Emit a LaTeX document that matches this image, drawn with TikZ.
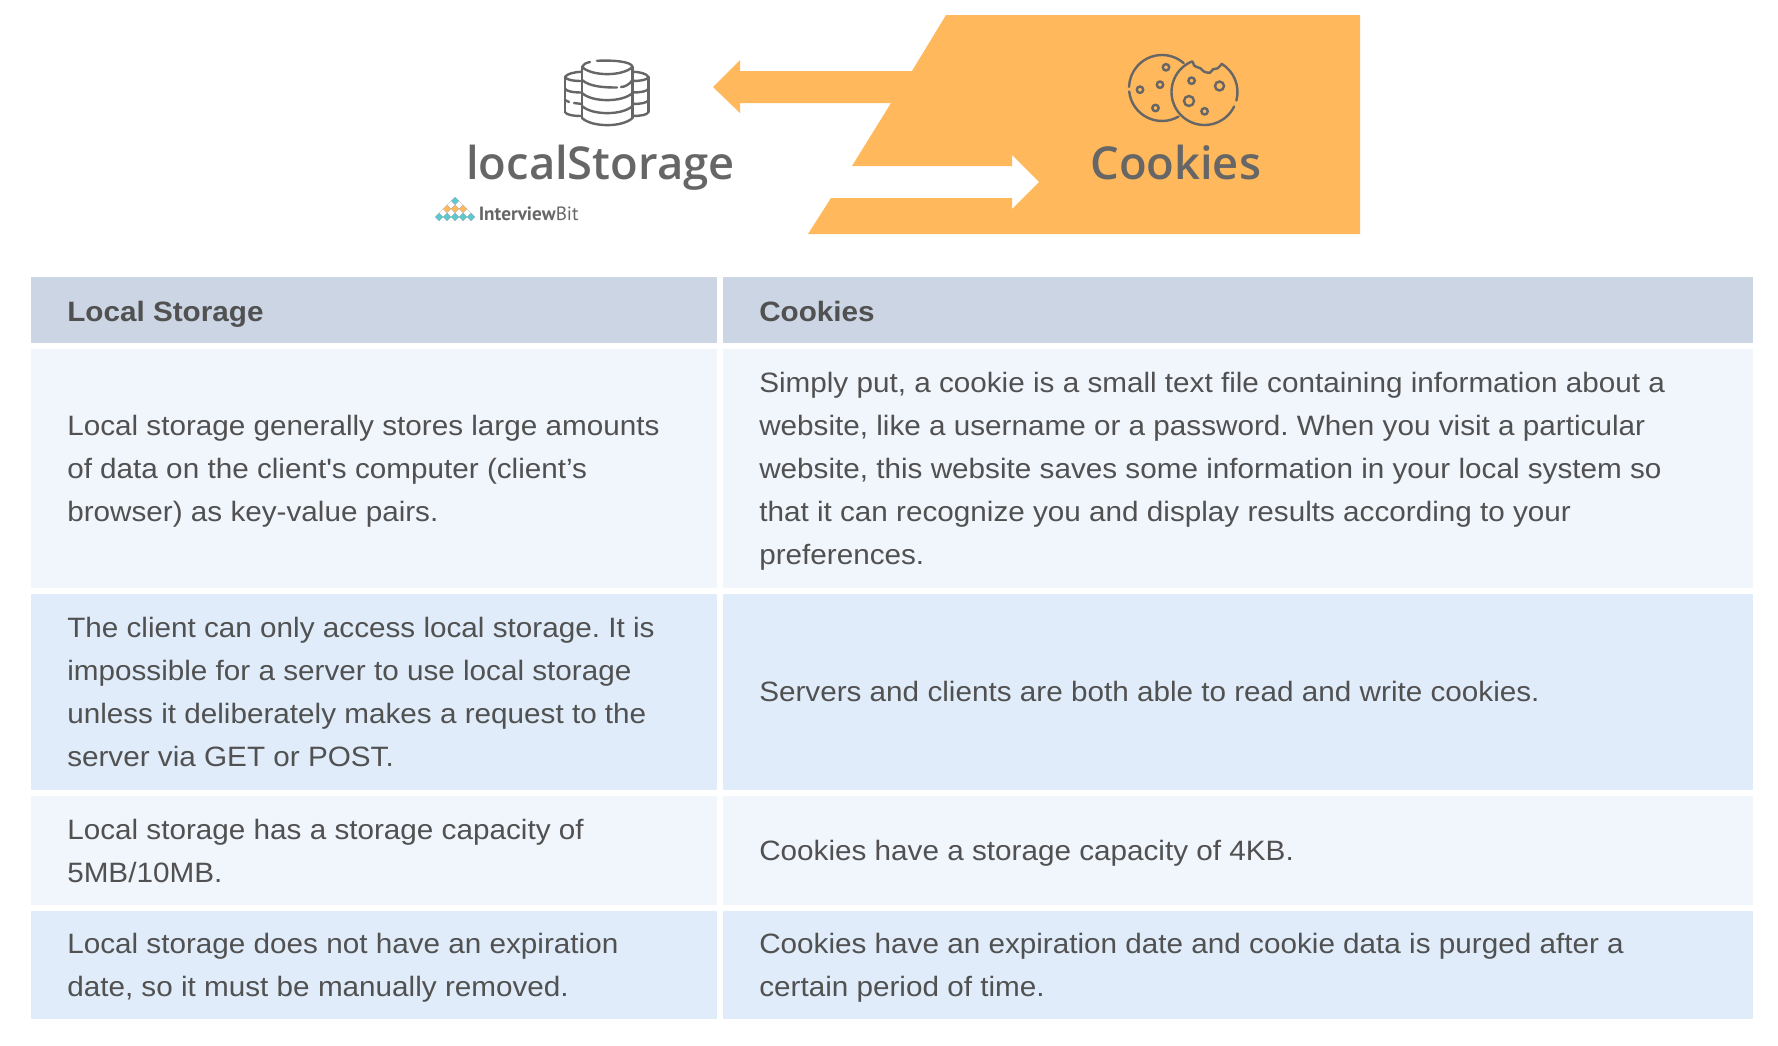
\documentclass[tikz,border=0pt]{standalone}
\usepackage{fontspec}
\setmainfont{Liberation Sans}
\newfontfamily\cellfont[FakeStretch=1.06]{Liberation Sans}
\newfontfamily\headfont{Open Sans Semibold}
\newfontfamily\logofont{PT Sans}
\usetikzlibrary{positioning}
\definecolor{accent}{HTML}{FFB85C}
\definecolor{iconcol}{HTML}{666666}
\definecolor{logoteal}{HTML}{5CC8D0}
\definecolor{txtcol}{HTML}{515151}
\definecolor{headbg}{HTML}{CBD5E3}
\definecolor{rowa}{HTML}{F1F5FC}
\definecolor{rowb}{HTML}{E0ECFA}
\newcommand{\bandarc}[4]{\draw[iconline] (#1,#3) .. controls (#1+0.2*#2-0.2*#1,#3+#4) and (#1+0.8*#2-0.8*#1,#3+#4) .. (#2,#3);}
\frenchspacing
\begin{document}
\begin{tikzpicture}[x=0.75pt,y=-0.75pt,
	iconline/.style={draw=iconcol,line width=1.8pt,line cap=round},
	celltext/.style={anchor=west,inner sep=0pt,align=left,text=txtcol,font=\fontsize{21}{32.25}\cellfont,execute at begin node=\strut,execute at end node=\strut},
	headtext/.style={celltext,font=\fontsize{21}{32.25}\cellfont\bfseries},
	bigtext/.style={anchor=base west,inner sep=0pt,text=iconcol,font=\fontsize{34}{34}\headfont}]
\useasboundingbox (0,0) rectangle (1778,1046);
% banner
\fill[accent] (946,15) -- (1360,15) -- (1360,234) -- (808,234) -- (831,198) -- (1012,198) -- (1012,209) -- (1039,182) -- (1012,155) -- (1012,166) -- (852,166) -- (891,103) -- (740,103) -- (740,113) -- (713,87) -- (740,60) -- (740,71) -- (912,71) -- cycle;
\node[bigtext] (title local) at (466,179) {localStorage};
\node[bigtext] (title cookies) at (1090,179) {Cookies};
% database icon
\draw[iconline] (565,77) -- (565,112);
\draw[iconline] (648.5,77) -- (648.5,112);
\draw[iconline] (565,77) .. controls (567,73.5) and (575,72) .. (582,71.7);
\draw[iconline] (648.5,77) .. controls (646.5,73.5) and (640,72) .. (632.5,71.7);
\foreach \y in {77,88.5,112} {
	\draw[iconline] (565,\y) .. controls (566,\y+3) and (574,\y+4) .. (582,\y+4);
	\draw[iconline] (648.5,\y) .. controls (647.5,\y+3) and (640,\y+4) .. (632.5,\y+4);
}
\draw[iconline] (565,100) -- (569,102);
\draw[iconline] (574,103) -- (582,104);
\draw[iconline] (648.5,100) .. controls (647.5,103) and (640,104) .. (632.5,104);
\draw[iconline] (582,67) -- (582,118);
\draw[iconline] (632.5,67) -- (632.5,118);
\draw[iconline] (582,67) .. controls (583,64) and (586,63) .. (590,62);
\draw[iconline] (597,60.8) .. controls (610,60) and (632,61) .. (632.5,67);
\foreach \y in {67,93,106,118} {
	\bandarc{582}{632.5}{\y}{9.5}
}
\draw[iconline] (582,80) .. controls (590,87) and (605,87.5) .. (617,87.5);
\draw[iconline] (621,87) .. controls (625,87) and (630,84) .. (632.5,80);
% cookie icon
\draw[iconline] (1162,88) ++(49:33*0.75pt) arc[start angle=49,end angle=178,radius=33*0.75pt];
\draw[iconline] (1162,88) ++(186:33*0.75pt) arc[start angle=186,end angle=300,radius=33*0.75pt];
\draw[iconline] (1204.5,92) ++(112:33*0.75pt) arc[start angle=112,end angle=334,radius=33*0.75pt];
\draw[iconline] (1204.5,92) ++(345:33*0.75pt) arc[start angle=345,end angle=419,radius=33*0.75pt];
\draw[iconline] plot[smooth] coordinates {(1192.7,61.7) (1194.6,66) (1200.4,68.3) (1204.2,71.7) (1210,72.7) (1213,69.3) (1217.6,68.3) (1221.5,64.3)};
\foreach \cx/\cy/\cr in {1166/67.3/3.2,1160/84.7/3.2,1140/89.7/3.2,1155.5/108/3.2,1191.6/80.7/3.2,1219.5/86/4.5,1189/101/5,1204.6/111.3/3.2} {
	\draw[iconline] (\cx,\cy) circle[radius=\cr*0.75pt];
}
% logo
\foreach \cx/\cy/\col in {455/201/logoteal,451/205/white,459/205/white,447/209/accent,455/209/accent,463/209/accent,443/213/white,451/213/white,459/213/white,467/213/white,439/217/logoteal,447/217/logoteal,455/217/logoteal,463/217/logoteal,471/217/logoteal} {
	\filldraw[fill=\col,draw=iconcol!55,line width=0.25pt] (\cx-4,\cy) -- (\cx,\cy-4) -- (\cx+4,\cy) -- (\cx,\cy+4) -- cycle;
}
\node[anchor=base west,inner sep=0pt,text=iconcol,font=\fontsize{14.4}{14.4}\logofont] (logo text) at (478.5,220) {\textbf{Interview}Bit};
% table
\foreach \x/\w in {31/686,723/1030} {
	\fill[headbg] (\x,277) rectangle ++(\w,66);
	\fill[rowa] (\x,349) rectangle ++(\w,239);
	\fill[rowb] (\x,594) rectangle ++(\w,196);
	\fill[rowa] (\x,796) rectangle ++(\w,109);
	\fill[rowb] (\x,911) rectangle ++(\w,108);
}
\node[headtext] (head local) at (67,312.5) {Local Storage};
\node[headtext] (head cookies) at (759,312.5) {Cookies};
\node[celltext] (local 1) at (67,475) {Local storage generally stores large amounts\\of data on the client's computer (client’s\\browser) as key-value pairs.};
\node[celltext] (cookies 1) at (759,475) {Simply put, a cookie is a small text file containing information about a\\website, like a username or a password. When you visit a particular\\website, this website saves some information in your local system so\\that it can recognize you and display results according to your\\preferences.};
\node[celltext] (local 2) at (67,698.5) {The client can only access local storage. It is\\impossible for a server to use local storage\\unless it deliberately makes a request to the\\server via GET or POST.};
\node[celltext] (cookies 2) at (759,693) {Servers and clients are both able to read and write cookies.};
\node[celltext] (local 3) at (67,857) {Local storage has a storage capacity of\\5MB/10MB.};
\node[celltext] (cookies 3) at (759,851.5) {Cookies have a storage capacity of 4KB.};
\node[celltext] (local 4) at (67,971.5) {Local storage does not have an expiration\\date, so it must be manually removed.};
\node[celltext] (cookies 4) at (759,971.5) {Cookies have an expiration date and cookie data is purged after a\\certain period of time.};
\end{tikzpicture}
\end{document}
